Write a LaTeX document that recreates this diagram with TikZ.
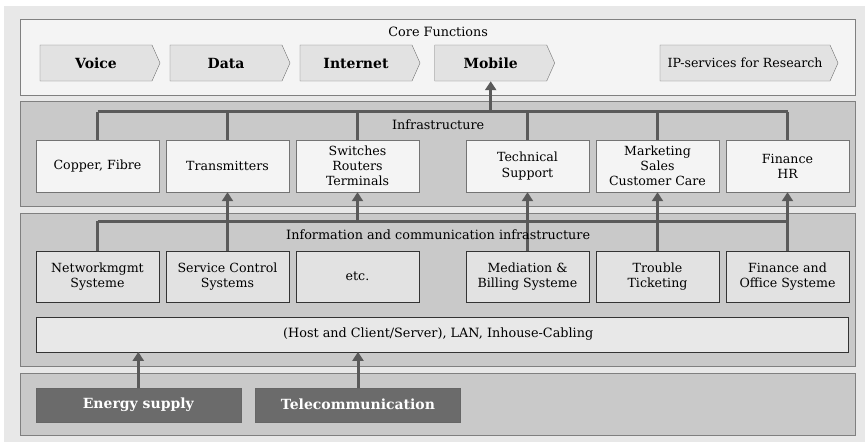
\documentclass[tikz,border=0pt]{standalone}
\usepackage{fontspec}
\setmainfont{DejaVu Serif}
\usetikzlibrary{positioning, arrows.meta, shapes.symbols}
\definecolor{pagegray}{HTML}{E8E8E8}
\definecolor{panelgray}{HTML}{C9C9C9}
\definecolor{lightbox}{HTML}{F4F4F4}
\definecolor{midbox}{HTML}{E2E2E2}
\definecolor{darkbox}{HTML}{6B6B6B}
\definecolor{linegray}{HTML}{5A5A5A}
\tikzset{
x=1pt, y=-1pt, % one unit is one pixel of the layout, y runs downwards
panel/.style={draw=black!50, line width=1pt}, % the four horizontal layers
corebox/.style={signal, signal to=east, signal pointer angle=132, draw=black!55, fill=midbox,
  minimum width=120, minimum height=36, inner sep=0pt, font=\fontsize{14}{16}\selectfont\bfseries}, % core functions
infbox/.style={draw=black!55, fill=lightbox, minimum width=123, minimum height=52, inner sep=0pt,
  align=center, font=\fontsize{12.6}{15.2}\selectfont}, % infrastructure boxes
icbox/.style={draw=black!80, fill=midbox, minimum width=123, minimum height=51, inner sep=0pt,
  align=center, font=\fontsize{12.6}{15.2}\selectfont}, % ICT boxes
basebox/.style={draw=black!60, fill=darkbox, text=white, minimum width=205, minimum height=34,
  inner sep=0pt, font=\fontsize{14}{16}\selectfont\bfseries}, % supply boxes
title/.style={font=\fontsize{12.8}{15}\selectfont, inner sep=0pt}, % layer titles
bus/.style={draw=linegray, line width=3pt}, % connecting lines
link/.style={bus, -{Triangle[width=11pt, length=9pt]}}, % arrows
}

\begin{document}
\begin{tikzpicture}
  \useasboundingbox (0,0) rectangle (865,442);
  \fill[pagegray] (4,6) rectangle (865,442);

  % layers
  \draw[panel, fill=lightbox] (20.7,19.3) rectangle (855.7,95);
  \draw[panel, fill=panelgray] (20.7,101.7) rectangle (855.7,206.7);
  \draw[panel, fill=panelgray] (20.7,213.3) rectangle (855.7,366.7);
  \draw[panel, fill=panelgray] (20.7,373.3) rectangle (855.7,435.3);

  \coordinate (infbus) at (0,111.7);
  \coordinate (icbus) at (0,221);

  % core functions
  \node[title] (coretitle) at (438.2,32) {Core Functions};
  \node[corebox] (voice) at (96,63) {Voice};
  \node[corebox] (data) at (226,63) {Data};
  \node[corebox] (inet) at (356,63) {Internet};
  \node[corebox] (mob) at (490.7,63) {Mobile};
  \node[corebox, minimum width=178, font=\fontsize{12.6}{15}\selectfont] (ip) at (745,63) {IP-services for Research};

  % infrastructure
  \node[infbox] (cu) at (97.5,166) {Copper, Fibre};
  \node[infbox] (tr) at (227.5,166) {Transmitters};
  \node[infbox] (sw) at (357.5,166) {Switches\\Routers\\Terminals};
  \node[infbox] (ts) at (527.5,166) {Technical\\Support};
  \node[infbox] (mk) at (657.5,166) {Marketing\\Sales\\Customer Care};
  \node[infbox] (fh) at (787.5,166) {Finance\\HR};

  % information and communication infrastructure
  \node[icbox] (nm) at (97.5,276.3) {Networkmgmt\\Systeme};
  \node[icbox] (sc) at (227.5,276.3) {Service Control\\Systems};
  \node[icbox] (etc) at (357.5,276.3) {etc.};
  \node[icbox] (med) at (527.5,276.3) {Mediation \&\\Billing Systeme};
  \node[icbox] (tt) at (657.5,276.3) {Trouble\\Ticketing};
  \node[icbox] (fo) at (787.5,276.3) {Finance and\\Office Systeme};
  \node[icbox, minimum width=812.7, minimum height=34.4, fill=pagegray] (lan) at (442.3,334.5) {};

  % supply
  \node[basebox] (en) at (138.3,404.7) {Energy supply};
  \node[basebox] (tc) at (358,404.7) {Telecommunication};

  % lines of the infrastructure layer
  \draw[bus] (cu.north |- infbus) -- (fh.north |- infbus);
  \foreach \n in {cu, tr, sw, ts, mk, fh}
    \draw[bus] (\n.north) -- (\n.north |- infbus);
  \draw[link] (mob.south |- infbus) -- (mob.south);

  % lines of the ICT layer
  \draw[bus] (nm.north |- icbus) -- (fo.north |- icbus);
  \draw[bus] (nm.north) -- (nm.north |- icbus);
  \draw[link] (sc.north) -- (tr.south);
  \draw[link] (sw.south |- icbus) -- (sw.south);
  \draw[link] (med.north) -- (ts.south);
  \draw[link] (tt.north) -- (mk.south);
  \draw[link] (fo.north) -- (fh.south);

  \draw[link] (en.north) -- (en.north |- lan.south);
  \draw[link] (tc.north) -- (tc.north |- lan.south);

  % titles on top of the lines
  \node[title] (inftitle) at (438.2,125) {Infrastructure};
  \node[title] (ictitle) at (438.2,234.3) {Information and communication infrastructure};
  \node[title] (lantitle) at (438.2,334.5) {(Host and Client/Server), LAN, Inhouse-Cabling};
\end{tikzpicture}
\end{document}
